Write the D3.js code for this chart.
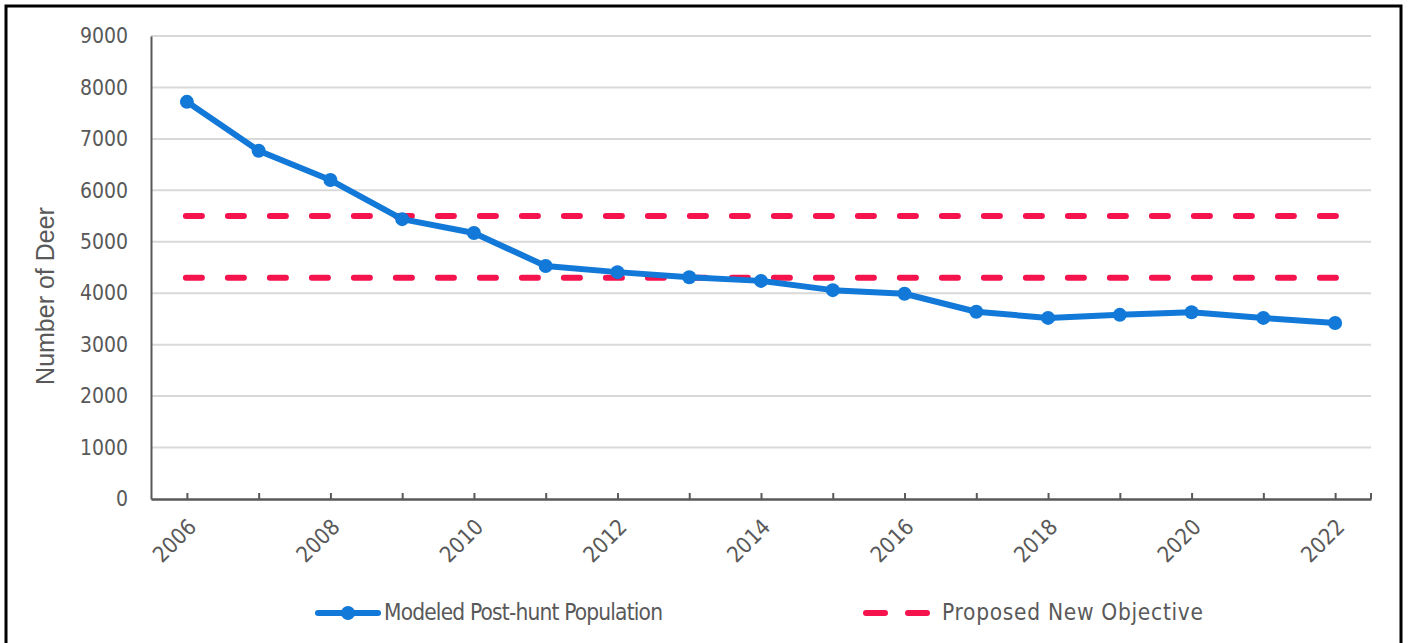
<html>
<head>
  <title>deer population</title>
</head>
<style>
  body { margin: 0; padding: 0; background: #fff; }
  text { font-family: "DejaVu Sans Condensed", "DejaVu Sans", sans-serif; fill: #595959; }
</style>
<body>
  <div id="chart"></div>
</body>
<script src="https://cdn.jsdelivr.net/npm/d3@7"></script>
<script>
  // データ
  const years = ["2006","2007","2008","2009","2010","2011","2012","2013","2014","2015","2016","2017","2018","2019","2020","2021","2022"]
  const population = [7720,6770,6200,5440,5170,4530,4410,4310,4240,4060,3990,3640,3520,3580,3630,3520,3420]
  const objectiveHigh = 5500
  const objectiveLow = 4300
  const yTicks = [0,1000,2000,3000,4000,5000,6000,7000,8000,9000]
  const seriesNames = ["Modeled Post-hunt Population", "Proposed New Objective"]

  const width = 1411
  const height = 643
  const blue = "#1279d8"
  const red = "#f5134e"
  const font = "\"DejaVu Sans Condensed\", \"DejaVu Sans\", sans-serif"

  const svg = d3.select("#chart").append("svg")
    .attr("width", width)
    .attr("height", height)

  // 枠
  svg.append("rect")
    .attr("x", 6).attr("y", 6)
    .attr("width", 1395).attr("height", 700)
    .attr("fill", "none")
    .attr("stroke", "#000")
    .attr("stroke-width", 3)

  const plotL = 151, plotR = 1371, plotT = 36, plotB = 499

  const x = d3.scalePoint()
    .domain(years)
    .range([plotL, plotR])
    .padding(0.5)

  const y = d3.scaleLinear()
    .domain([0, 9000])
    .range([plotB, plotT])

  // グリッド
  svg.append("g")
    .selectAll("line").data(yTicks.filter(d => d > 0)).join("line")
    .attr("x1", plotL).attr("x2", plotR)
    .attr("y1", d => y(d)).attr("y2", d => y(d))
    .attr("stroke", "#d9d9d9")
    .attr("stroke-width", 2)

  // y軸
  const yAxis = svg.append("g")
    .attr("transform", `translate(${plotL},0)`)
    .call(d3.axisLeft(y).tickValues(yTicks).tickFormat(d3.format("d")).tickSize(0).tickPadding(23))
  yAxis.select(".domain").attr("stroke", "#595959").attr("stroke-width", 2)
  yAxis.selectAll("text")
    .style("font-size", "21px")
    .style("font-family", font)
    .attr("fill", "#595959")

  // x軸
  const xAxis = svg.append("g")
    .attr("transform", `translate(0,${plotB})`)
    .call(d3.axisBottom(x).tickSizeInner(-6).tickSizeOuter(0)
      .tickFormat((d, i) => i % 2 === 0 ? d : ""))
  xAxis.select(".domain").attr("stroke", "#595959").attr("stroke-width", 2.5)
  xAxis.selectAll(".tick line").attr("stroke", "#595959").attr("stroke-width", 2)
  xAxis.append("line")
    .attr("x1", plotR).attr("x2", plotR)
    .attr("y1", 0).attr("y2", -6)
    .attr("stroke", "#595959").attr("stroke-width", 2)
  xAxis.selectAll(".tick text")
    .attr("y", 0).attr("dy", 0)
    .attr("transform", "translate(6,25) rotate(-45)")
    .attr("text-anchor", "end")
    .attr("dominant-baseline", "middle")
    .style("font-size", "22px")
    .style("font-family", font)
    .attr("fill", "#595959")

  // y軸タイトル
  svg.append("text")
    .attr("transform", "translate(54,296) rotate(-90)")
    .attr("text-anchor", "middle")
    .style("font-family", "\"Liberation Sans\", Arial, sans-serif")
    .style("font-size", "25px")
    .text("Number of Deer")

  // 目標ライン
  const dashed = svg.append("g")
  ;[objectiveHigh, objectiveLow].forEach(v => {
    dashed.append("line")
      .attr("x1", x(years[0]) - 1)
      .attr("x2", x(years[years.length - 1]) + 3)
      .attr("y1", y(v)).attr("y2", y(v))
      .attr("stroke", red)
      .attr("stroke-width", 6)
      .attr("stroke-linecap", "round")
      .attr("stroke-dasharray", "16 26")
  })

  // 個体数ライン
  const line = d3.line()
    .x((d, i) => x(years[i]))
    .y(d => y(d))
  svg.append("path")
    .datum(population)
    .attr("d", line)
    .attr("fill", "none")
    .attr("stroke", blue)
    .attr("stroke-width", 6)
    .attr("stroke-linejoin", "round")

  svg.append("g")
    .selectAll("circle").data(population).join("circle")
    .attr("cx", (d, i) => x(years[i]))
    .attr("cy", d => y(d))
    .attr("r", 7)
    .attr("fill", blue)

  // 凡例
  const legY = 613
  const leg = svg.append("g")
  leg.append("line")
    .attr("x1", 318).attr("x2", 378)
    .attr("y1", legY).attr("y2", legY)
    .attr("stroke", blue).attr("stroke-width", 6).attr("stroke-linecap", "round")
  leg.append("circle")
    .attr("cx", 348).attr("cy", legY).attr("r", 7).attr("fill", blue)
  leg.append("text")
    .attr("x", 384).attr("y", legY)
    .attr("dominant-baseline", "middle")
    .attr("textLength", 279)
    .attr("lengthAdjust", "spacing")
    .style("font-size", "22.5px")
    .text(seriesNames[0])

  leg.append("line")
    .attr("x1", 866).attr("x2", 929)
    .attr("y1", legY).attr("y2", legY)
    .attr("stroke", red).attr("stroke-width", 6).attr("stroke-linecap", "round")
    .attr("stroke-dasharray", "19 23")
  leg.append("text")
    .attr("x", 942).attr("y", legY)
    .attr("dominant-baseline", "middle")
    .attr("textLength", 261)
    .attr("lengthAdjust", "spacing")
    .style("font-size", "22.5px")
    .text(seriesNames[1])
</script>
</html>
